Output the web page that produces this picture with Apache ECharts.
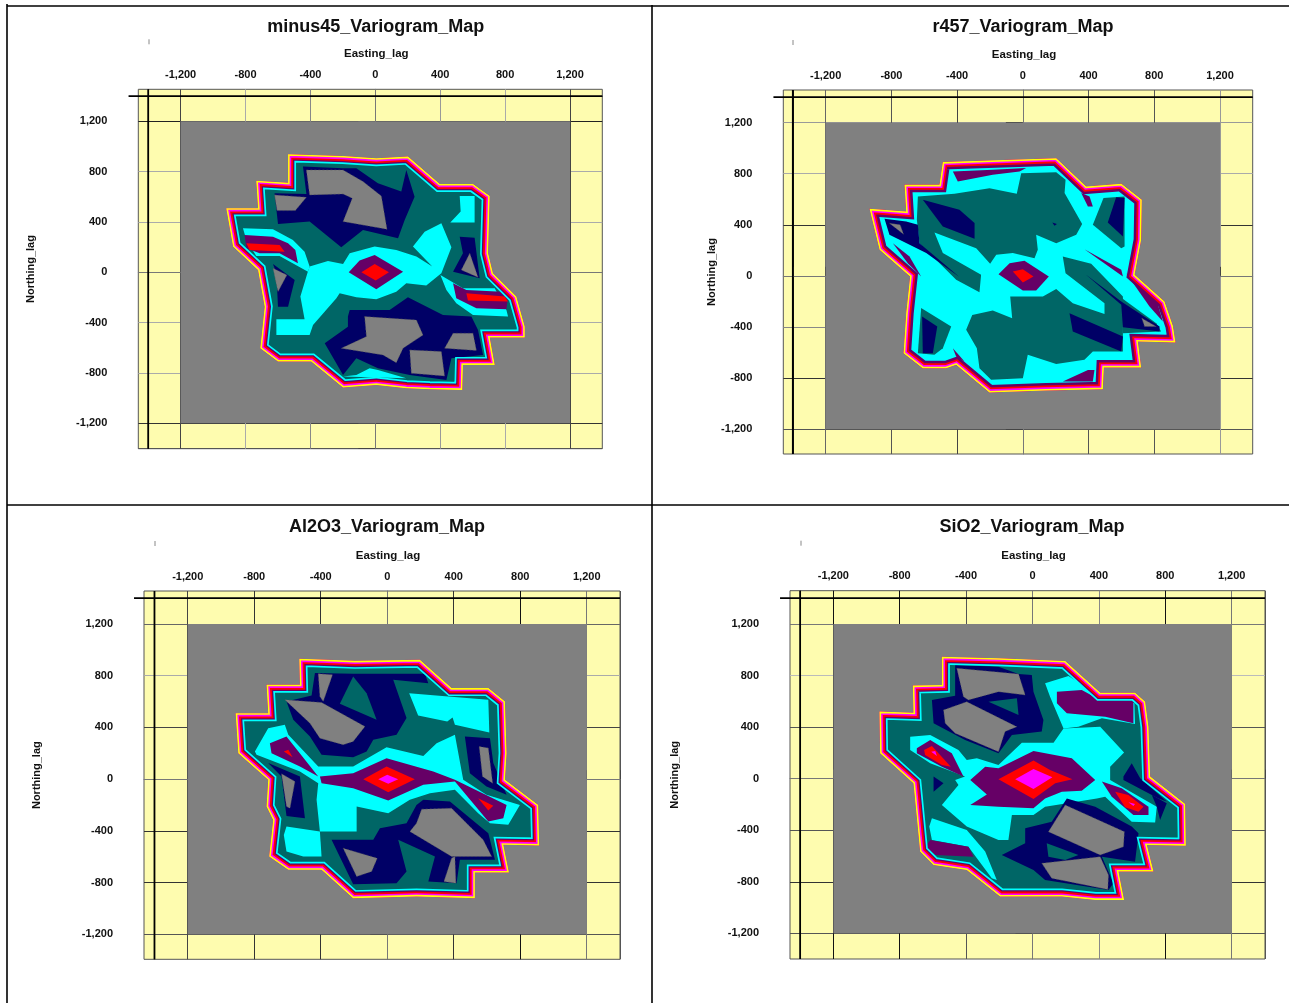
<!DOCTYPE html>
<html><head><meta charset="utf-8">
<style>html,body{margin:0;padding:0;background:#fff}#c{width:1289px;height:1003px}</style>
<script src="https://cdn.jsdelivr.net/npm/echarts@6/dist/echarts.min.js"></script>
</head><body><div id="c"></div>
<script>
const titles=["minus45_Variogram_Map","r457_Variogram_Map","Al2O3_Variogram_Map","SiO2_Variogram_Map"];
const xLabels=[-1200,-800,-400,0,400,800,1200];
const yLabels=[-1200,-800,-400,0,400,800,1200];
const majorTicks=[-1400,-1200,-800,-400,0,400,800,1200,1400];
const minorTicks=[-1000,-600,-200,200,600,1000];
const greyExtent=[[-1200,1200],[1200,1200],[1200,-1200],[-1200,-1200]];
const frameLag=1400;

// Panel 1: minus45
const p1Outline=[[-538,938],[-199,924],[6,906],[201,919],[397,702],[602,702],[705,607],[695,151],[725,-8],[869,-193],[921,-432],[921,-519],[705,-519],[736,-736],[540,-736],[536,-935],[335,-930],[191,-922],[6,-895],[-199,-916],[-395,-710],[-600,-710],[-709,-604],[-682,-273],[-723,19],[-877,204],[-919,509],[-723,509],[-734,728],[-538,712]];
const p1Cyan=[
[[-405,45],[-292,90],[-199,66],[-158,151],[-4,204],[129,177],[253,125],[351,45],[232,204],[304,323],[407,389],[469,199],[407,-8],[314,-106],[191,-87],[129,-154],[6,-215],[-117,-199],[-220,-167],[-240,-207],[-384,-419],[-405,-498],[-610,-498],[-610,-374],[-436,-374],[-462,-193],[-419,-8]],
[[520,607],[612,607],[612,395],[462,395],[526,482]],
[[-816,350],[-631,342],[-508,257],[-436,164],[-405,45],[-415,5],[-590,130],[-734,130],[-795,257]],
[[401,-21],[540,-127],[736,-127],[808,-299],[818,-352],[602,-339],[499,-246],[438,-140]],
[[-117,-816],[-35,-763],[16,-776],[191,-842],[-199,-829]]];
const p1Teal=[];
const p1Navy=[
[[-446,840],[-199,826],[-117,826],[16,707],[160,641],[191,813],[242,601],[181,416],[140,270],[-76,336],[-210,199],[-405,403],[-600,384],[-621,628],[-425,622]],
[[-169,-352],[-158,-299],[88,-299],[201,-199],[417,-339],[592,-352],[633,-458],[664,-657],[469,-683],[438,-856],[212,-816],[16,-763],[-117,-683],[-199,-816],[-312,-564],[-169,-432]],
[[-631,66],[-497,-61],[-538,-273],[-600,-273],[-610,-8]],
[[520,283],[612,275],[643,-48],[479,5],[540,151]]];
const p1Patch=[];
const p1Grey=[
[[-425,813],[-199,813],[-76,721],[37,607],[72,342],[-199,403],[-142,588],[-199,622],[-405,615]],
[[-621,615],[-425,596],[-493,490],[-606,490]],
[[-66,-352],[253,-379],[294,-498],[171,-604],[129,-718],[47,-657],[-210,-604],[-55,-511]],
[[427,-604],[479,-485],[602,-485],[623,-622]],
[[212,-617],[407,-630],[427,-824],[222,-803]],
[[-631,32],[-545,-21],[-600,-154]],
[[582,151],[633,-40],[530,19]]];
const p1Purple=[
[[-4,138],[171,5],[6,-135],[-164,0],[-97,93]],
[[-806,297],[-631,283],[-538,230],[-493,177],[-477,72],[-590,151],[-713,151],[-795,191]],
[[479,-87],[561,-140],[777,-154],[818,-193],[808,-294],[623,-286],[499,-207]]];
const p1Red=[
[[-4,66],[84,0],[2,-66],[-86,0]],
[[-795,230],[-590,217],[-559,164],[-775,177]],
[[561,-167],[797,-193],[818,-233],[571,-225]]];
const p1Magenta=[];

// Panel 2: r457
const p2Outline=[[-487,891],[203,922],[385,700],[599,721],[724,596],[720,282],[680,8],[862,-201],[913,-392],[929,-522],[700,-515],[720,-718],[493,-718],[487,-888],[142,-899],[-203,-914],[-406,-697],[-467,-724],[-609,-724],[-726,-606],[-710,-293],[-686,-5],[-872,204],[-933,525],[-710,504],[-720,713],[-507,713]];
const p2Cyan=[];
const p2Teal=[
[[-645,439],[-629,256],[-406,-31],[-264,-128],[-254,8],[-487,178],[-538,340],[-284,217],[-199,94],[-162,165],[-61,178],[71,138],[91,204],[81,321],[203,256],[325,321],[361,407],[254,648],[260,752],[203,812],[-10,804],[-37,643],[-203,687],[-416,643],[-639,622]],
[[203,-104],[304,-214],[497,-300],[497,-214],[260,21],[243,151],[416,94],[609,-162],[609,-593],[426,-593],[375,-658],[203,-690],[30,-619],[0,-802],[-193,-815],[-264,-724],[-280,-567],[-345,-423],[-308,-306],[-183,-272],[-65,-332],[-77,-162],[122,-162]],
[[589,-162],[812,-371],[842,-436],[609,-449]],
[[491,609],[619,622],[619,230],[599,217],[426,400]],
[[-619,-253],[-436,-397],[-487,-567],[-538,-619],[-639,-606]]];
const p2Navy=[
[[-609,596],[-386,517],[-294,413],[-294,290],[-487,387]],
[[-842,447],[-710,426],[-639,400],[-629,256],[-386,-10],[-588,178],[-812,321]],
[[284,-293],[609,-475],[599,-593],[304,-436]],
[[381,13],[599,-201],[832,-397],[832,-436],[609,-402],[599,-227]],
[[568,616],[619,609],[609,308],[517,418]],
[[-613,-319],[-521,-397],[-548,-606],[-609,-606]],
[[179,418],[207,407],[193,392]]];
const p2Patch=[];
const p2Grey=[
[[-812,412],[-747,400],[-726,326]],
[[724,-332],[812,-397],[741,-397]]];
const p2Purple=[
[[-81,99],[10,118],[158,-5],[81,-115],[0,-115],[-148,13]],
[[-426,818],[-183,831],[20,844],[-20,818],[-183,791],[-396,739]],
[[355,648],[406,622],[426,543],[396,543]],
[[375,209],[599,47],[609,-5]],
[[629,21],[822,-227],[852,-358],[771,-240]],
[[243,-828],[396,-737],[436,-737],[426,-828]],
[[-791,256],[-690,151],[-619,-5],[-700,99]],
[[-426,-567],[-355,-671],[-406,-632]]];
const p2Red=[[[-61,34],[0,52],[65,-5],[0,-52]]];
const p2Magenta=[];

// Panel 3: Al2O3
const p3Outline=[[-529,931],[-194,915],[196,923],[387,704],[608,704],[708,601],[718,201],[708,-5],[908,-199],[914,-513],[698,-508],[732,-722],[527,-722],[527,-920],[176,-907],[-205,-920],[-395,-701],[-595,-701],[-710,-598],[-686,-315],[-726,-211],[-716,-5],[-896,201],[-912,510],[-716,510],[-726,730],[-525,730]];
const p3Cyan=[
[[132,665],[367,639],[608,614],[614,361],[407,420],[393,477],[361,446],[186,492]],
[[-796,214],[-716,394],[-616,420],[-595,343],[-415,98],[-205,98],[-4,247],[217,180],[297,278],[407,343],[457,-5],[597,-121],[798,-199],[728,-353],[618,-340],[547,-263],[407,-82],[257,-108],[136,-160],[6,-263],[-184,-211],[-184,-405],[-405,-405],[-425,-160],[-415,-31],[-525,59],[-786,188]],
[[-606,-366],[-405,-405],[-395,-598],[-505,-598],[-606,-559],[-622,-431]]];
const p3Teal=[];
const p3Navy=[
[[-435,820],[-205,815],[227,815],[247,742],[36,768],[116,472],[56,343],[-84,304],[-124,214],[-205,170],[-395,188],[-465,330],[-565,459],[-606,601],[-455,647]],
[[217,-160],[377,-173],[608,-418],[648,-624],[437,-624],[417,-804],[247,-791],[287,-598],[66,-469],[116,-714],[56,-804],[-205,-812],[-335,-469],[-84,-469],[-44,-379],[116,-340],[176,-199]],
[[-716,124],[-525,21],[-495,-302],[-606,-284],[-636,21]],
[[467,330],[618,317],[638,124],[718,-121],[597,-57],[497,46]]];
const p3Patch=[[[-205,794],[-124,665],[-64,459],[-285,583]]];
const p3Grey=[
[[-415,815],[-329,807],[-385,601],[-405,639]],
[[-616,614],[-395,593],[-134,407],[-205,291],[-265,266],[-405,317],[-465,433]],
[[207,-232],[387,-224],[577,-469],[628,-598],[387,-598],[136,-405],[176,-340]],
[[-265,-534],[-60,-611],[-94,-714],[-184,-753]],
[[387,-611],[407,-598],[413,-804],[341,-791]],
[[-636,41],[-555,-18],[-585,-224],[-606,-211]],
[[553,253],[608,240],[634,-31],[573,21]]];
const p3Purple=[
[[-405,21],[-205,46],[-4,162],[277,59],[407,-5],[718,-199],[698,-302],[608,-327],[407,-18],[217,-44],[6,-165],[-205,-70],[-395,-31]],
[[-706,278],[-606,330],[-415,21],[-525,98],[-696,201]]];
const p3Red=[
[[-144,0],[-4,98],[166,0],[6,-101]],
[[-622,214],[-595,227],[-569,170]],
[[547,-147],[638,-206],[608,-242]]];
const p3Magenta=[[[-54,0],[0,34],[66,0],[6,-36]]];

// Panel 4: SiO2
const p4Outline=[[-546,946],[-205,934],[197,913],[408,667],[618,667],[679,597],[699,403],[709,16],[920,-197],[924,-520],[689,-515],[729,-721],[518,-721],[552,-941],[378,-941],[177,-915],[-195,-915],[-396,-709],[-596,-670],[-677,-566],[-717,-36],[-918,197],[-922,520],[-717,512],[-721,722],[-546,727]];
const p4Cyan=[
[[76,740],[217,796],[378,662],[614,584],[618,424],[418,468],[277,403],[187,390],[106,636]],
[[-737,326],[-616,339],[-446,222],[-396,145],[-335,158],[-205,106],[-64,279],[127,279],[187,390],[408,403],[552,202],[468,93],[468,-10],[749,-217],[739,-341],[598,-334],[438,-140],[388,-153],[76,-217],[6,-282],[-124,-282],[-145,-476],[-205,-476],[-396,-372],[-546,-204],[-446,-49],[-466,-10],[-406,16],[-616,119],[-737,222]],
[[-606,-308],[-396,-398],[-285,-566],[-215,-786],[-245,-773],[-365,-566],[-386,-528],[-606,-476],[-622,-372]]];
const p4Teal=[];
const p4Navy=[
[[-466,882],[-205,869],[-84,812],[-4,804],[6,675],[66,455],[56,365],[-124,339],[-205,197],[-406,300],[-596,429],[-606,610],[-466,644]],
[[207,-153],[378,-217],[598,-372],[639,-424],[618,-644],[418,-605],[488,-812],[458,-864],[76,-786],[6,-709],[-185,-592],[-44,-502],[-44,-385],[116,-334]],
[[548,16],[598,119],[649,3],[809,-178],[759,-153],[548,-10]],
[[719,-127],[809,-191],[769,-321],[749,-217]],
[[-596,16],[-536,-36],[-596,-101]]];
const p4Patch=[
[[-265,597],[-94,623],[-84,494]],
[[86,-502],[277,-592],[197,-631],[96,-605]]];
const p4Grey=[
[[-456,856],[-165,822],[-84,812],[-44,649],[-205,675],[-386,610],[-416,636]],
[[-536,533],[-396,597],[-94,403],[-165,365],[-205,209],[-466,352],[-526,429]],
[[197,-204],[554,-411],[548,-528],[408,-592],[96,-411]],
[[56,-657],[408,-605],[458,-747],[454,-859],[116,-773]]];
const p4Purple=[
[[147,675],[297,688],[408,610],[608,610],[608,429],[438,481],[207,507],[147,584]],
[[-616,-476],[-386,-528],[-355,-605],[-586,-592],[-647,-528]],
[[-375,-10],[-285,93],[-205,80],[6,215],[237,158],[378,-10],[297,-93],[177,-101],[76,-153],[6,-230],[-205,-217],[-375,-204],[-275,-122]],
[[-697,235],[-616,300],[-486,197],[-416,16],[-546,93],[-697,197]],
[[418,-23],[538,-75],[699,-217],[699,-282],[608,-282],[478,-140]]];
const p4Red=[
[[-205,-5],[6,140],[106,67],[241,-5],[137,-36],[6,-158]],
[[-653,222],[-606,253],[-492,93],[-546,106],[-647,184]],
[[498,-101],[578,-127],[669,-217],[639,-256],[558,-222]]];
const p4Magenta=[
[[-104,-5],[6,75],[120,10],[6,-80]],
[[-610,209],[-586,215],[-576,176]],
[[578,-184],[618,-197],[608,-212]]];

const COLORS={yellow:'#FFFF00',magenta:'#FF00FF',red:'#FF0000',purple:'#660066',cyan:'#00FFFF',teal:'#006666',navy:'#000066',grey:'#808080',paper:'#FEFCAF'};

// layout of each panel, in pixels
const layouts=[
 {l:138.3,r:602.3,t:89.3,b:448.7,xmin:-1461,xmax:1399,ymin:-1402,ymax:1454,tx:375.7,ty:18,namePad:12,stub:149},
 {l:783.3,r:1252.7,t:90,b:454,xmin:-1458,xmax:1399,ymin:-1396,ymax:1456,tx:1023,ty:18,namePad:12,stub:793},
 {l:144,r:620,t:591,b:959.3,xmin:-1463,xmax:1400,ymin:-1393,ymax:1455,tx:387,ty:518,namePad:12,stub:155},
 {l:790,r:1265,t:590.7,b:959,xmin:-1461,xmax:1401,ymin:-1399,ymax:1458,tx:1032,ty:518,namePad:12,stub:801}];
const base=['teal','cyan','teal','teal'];
const rings=[
 [['cyan',8],['purple',6.3],['red',5],['magenta',3.2],['yellow',1.6]],
 [['purple',7.5],['red',5],['magenta',3.2],['yellow',1.6]],
 [['cyan',8],['purple',6.3],['red',5],['magenta',3.2],['yellow',1.6]],
 [['cyan',8],['purple',6.3],['red',5],['magenta',3.2],['yellow',1.6]]];
const gridX=[
 ['#222','#444','#aaa','#888','#333','#999','#aaa','#444','#555'],
 ['#222','#666','#555','#444','#333','#555','#555','#999','#555'],
 ['#222','#444','#333','#333','#444','#333','#111','#777','#555'],
 ['#222','#111','#111','#555','#666','#888','#111','#777','#555']];
const gridY=[
 ['#555','#333','#aaa','#aaa','#666','#aaa','#aaa','#222','#222'],
 ['#555','#333','#888','#aaa','#333','#aaa','#999','#333','#222'],
 ['#555','#333','#333','#bbb','#444','#aaa','#666','#222','#222'],
 ['#555','#333','#555','#bbb','#555','#bbb','#777','#222','#222']];
const layers=[
 [p1Cyan,p1Teal,p1Navy,p1Patch,p1Grey,p1Purple,p1Red,p1Magenta],
 [p2Cyan,p2Teal,p2Navy,p2Patch,p2Grey,p2Purple,p2Red,p2Magenta],
 [p3Cyan,p3Teal,p3Navy,p3Patch,p3Grey,p3Purple,p3Red,p3Magenta],
 [p4Cyan,p4Teal,p4Navy,p4Patch,p4Grey,p4Purple,p4Red,p4Magenta]];
const layerColors=['cyan','teal','navy','teal','grey','purple','red','magenta'];
const outlines=[p1Outline,p2Outline,p3Outline,p4Outline];

const font='"Liberation Sans",Arial,sans-serif';
const option={animation:false,backgroundColor:'#fff',title:[],grid:[],xAxis:[],yAxis:[],series:[],graphic:[]};

layouts.forEach((L,k)=>{
  option.title.push({text:titles[k],left:L.tx,top:L.ty,textAlign:'center',textStyle:{fontFamily:font,fontWeight:'bold',fontSize:18,color:'#111'},padding:0});
  option.grid.push({show:true,left:L.l,top:L.t,width:L.r-L.l,height:L.b-L.t,backgroundColor:COLORS.paper,borderColor:'#555',borderWidth:1});
  const xBase={type:'value',gridIndex:k,position:'top',min:L.xmin,max:L.xmax};
  const yBase={type:'value',gridIndex:k,position:'left',min:L.ymin,max:L.ymax};
  option.xAxis.push(Object.assign({},xBase,{
    name:'Easting_lag',nameLocation:'middle',nameGap:29,
    nameTextStyle:{fontFamily:font,fontWeight:'bold',fontSize:11.5,color:'#111',padding:[0,0,0,L.namePad]},
    axisLine:{show:true,lineStyle:{color:'#777',width:1}},
    axisTick:{show:true,customValues:majorTicks,length:9,lineStyle:{color:'#444',width:1}},
    axisLabel:{show:true,customValues:xLabels,margin:9,fontFamily:font,fontWeight:'bold',fontSize:11,color:'#111',hideOverlap:false},
    splitLine:{show:true,lineStyle:{color:gridX[k],width:1}}}));
  option.xAxis.push(Object.assign({},xBase,{
    axisLine:{show:false},axisLabel:{show:false},splitLine:{show:false},
    axisTick:{show:true,customValues:minorTicks,length:4,lineStyle:{color:'#666',width:1}}}));
  option.yAxis.push(Object.assign({},yBase,{
    name:'Northing_lag',nameLocation:'middle',nameGap:L.l-(k%2?680:36)-(k==2?6:0)-(k==1?103:0)-(k==3?0:0),
    nameTextStyle:{fontFamily:font,fontWeight:'bold',fontSize:11,color:'#111'},
    axisLine:{show:true,lineStyle:{color:'#777',width:1}},
    axisTick:{show:true,customValues:majorTicks,length:17,lineStyle:{color:'#444',width:1}},
    axisLabel:{show:true,customValues:yLabels,margin:31,fontFamily:font,fontWeight:'bold',fontSize:11,color:'#111',hideOverlap:false},
    splitLine:{show:true,lineStyle:{color:gridY[k],width:1}}}));
  option.yAxis.push(Object.assign({},yBase,{
    axisLine:{show:false},axisLabel:{show:false},splitLine:{show:false},
    axisTick:{show:true,customValues:minorTicks,length:4,lineStyle:{color:'#666',width:1}}}));

  const items=[];
  items.push({pts:greyExtent,fill:COLORS.grey});
  items.push({pts:outlines[k],fill:COLORS[base[k]],clip:true});
  layers[k].forEach((list,i)=>list.forEach(pts=>items.push({pts,fill:COLORS[layerColors[i]],clip:true,dash:layerColors[i]==='grey'})));
  rings[k].forEach(r=>items.push({pts:outlines[k],stroke:COLORS[r[0]],width:r[1]*2,clip:true}));
  const outline=outlines[k];
  option.series.push({
    type:'custom',coordinateSystem:'cartesian2d',xAxisIndex:k*2,yAxisIndex:k*2,silent:true,z:3,
    encode:{x:0,y:1},clip:false,
    data:items.map(it=>[it.pts[0][0],it.pts[0][1]]),
    renderItem(params,api){
      const it=items[params.dataIndex];
      const points=it.pts.map(p=>api.coord(p));
      const style=it.stroke?{fill:'none',stroke:it.stroke,lineWidth:it.width,lineJoin:'miter',miterLimit:6}
        :it.dash?{fill:it.fill,stroke:'#555',lineWidth:0.5,lineDash:[2,2]}:{fill:it.fill};
      const el={type:'polygon',z2:params.dataIndex,shape:{points},style};
      if(it.clip) el.clipPath={type:'polygon',shape:{points:outline.map(p=>api.coord(p))}};
      return el;
    }});
  // the heavy frame lines drawn at +/-1400 lag
  option.series.push({
    type:'custom',coordinateSystem:'cartesian2d',xAxisIndex:k*2,yAxisIndex:k*2,silent:true,z:4,clip:false,
    encode:{x:0,y:1},
    data:[[-frameLag,L.ymax,-frameLag,L.ymin],[L.xmin-60,frameLag,L.xmax,frameLag]],
    renderItem(params,api){
      const a=api.coord([api.value(0),api.value(1)]),b=api.coord([api.value(2),api.value(3)]);
      return {type:'line',shape:{x1:a[0],y1:a[1],x2:b[0],y2:b[1]},style:{stroke:'#000',lineWidth:1.8}};
    }});
  option.graphic.push({type:'line',silent:true,shape:{x1:L.stub,y1:L.t-50,x2:L.stub,y2:L.t-45},style:{stroke:'#888',lineWidth:1}});
});
[[7,6,1289,6],[7,505,1289,505],[7,4,7,1003],[652,5,652,1003]].forEach(s=>{
  option.graphic.push({type:'line',silent:true,shape:{x1:s[0],y1:s[1],x2:s[2],y2:s[3]},style:{stroke:'#000',lineWidth:1.6}});
});
const chart=echarts.init(document.getElementById('c'),null,{renderer:'canvas'});
chart.setOption(option);
</script></body></html>
